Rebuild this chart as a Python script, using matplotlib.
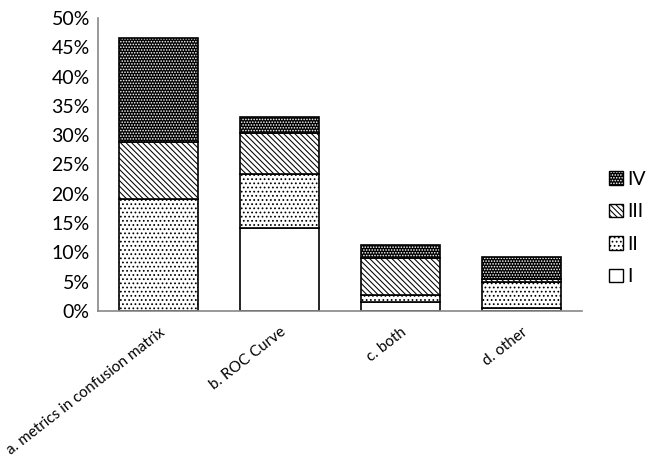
import numpy as np
import matplotlib.pyplot as plt
from matplotlib.patches import Patch
from matplotlib.legend_handler import HandlerTuple

categories = ['a. metrics in confusion matrix', 'b. ROC Curve', 'c. both', 'd. other']
series_names = ['I', 'II', 'III', 'IV']
vals_I = [0.0, 14.1, 1.5, 0.6]
vals_II = [19.1, 9.2, 1.3, 4.3]
vals_III = [9.8, 7.0, 6.3, 0.6]
vals_IV = [17.6, 2.8, 2.1, 3.7]

plt.rcParams['font.family'] = ['Lato', 'DejaVu Sans']
plt.rcParams['hatch.linewidth'] = 0.75

fig = plt.figure(figsize=(6.5, 4.59), dpi=100)
ax = fig.add_axes([0.151, 0.3224, 0.744, 0.6386])

x = np.arange(len(categories))
w = 0.65
series = [vals_I, vals_II, vals_III, vals_IV]
styles = [
    dict(facecolor='white', hatch=None, hc='black'),
    dict(facecolor='white', hatch='....', hc='black'),
    dict(facecolor='white', hatch='\\' * 6, hc='black'),
    dict(facecolor='black', hatch='......', hc='white'),
]

bottom = np.zeros(len(categories))
for vals, st in zip(series, styles):
    v = np.array(vals)
    # hatch is drawn in the edge colour, so outline separately on top
    ax.bar(x, v, w, bottom=bottom, facecolor=st['facecolor'],
           edgecolor=st['hc'], hatch=st['hatch'], linewidth=0)
    ax.bar(x, v, w, bottom=bottom, fill=False, edgecolor='black', linewidth=1.2)
    bottom += v

ax.set_xlim(-0.5, len(categories) - 0.5)
ax.set_ylim(0, 50)
ax.set_yticks(np.arange(0, 51, 5))
ax.set_yticklabels([f'{t}%' for t in range(0, 51, 5)], fontsize=14)
ax.set_xticks(x)
ax.set_xticklabels(categories, rotation=38, ha='right', va='top',
                   rotation_mode='anchor', fontsize=11)
ax.tick_params(axis='both', length=0)
ax.tick_params(axis='x', pad=10)
ax.tick_params(axis='y', pad=6)
for s in ['top', 'right']:
    ax.spines[s].set_visible(False)
for s in ['left', 'bottom']:
    ax.spines[s].set_color('#888888')
    ax.spines[s].set_linewidth(1.2)

handles = []
for name, st in zip(series_names, styles):
    fill = Patch(facecolor=st['facecolor'], edgecolor=st['hc'], hatch=st['hatch'], linewidth=0)
    edge = Patch(fill=False, edgecolor='black', linewidth=1.0)
    handles.append((fill, edge))
handles = handles[::-1]
labels = series_names[::-1]
leg = fig.legend(handles, labels, loc='center left', bbox_to_anchor=(0.91, 0.503),
                 frameon=False, fontsize=14, handlelength=0.7, handleheight=0.7,
                 labelspacing=0.8, handletextpad=0.25,
                 handler_map={tuple: HandlerTuple(ndivide=1, pad=0)})

fig.savefig('out.png', dpi=100)
